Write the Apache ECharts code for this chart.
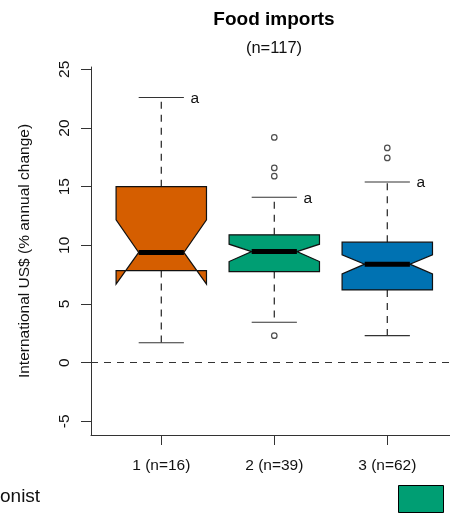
<!DOCTYPE html>
<html><head><meta charset="utf-8">
<script src="https://cdn.jsdelivr.net/npm/echarts@6/dist/echarts.min.js"></script>
<style>html,body{margin:0;padding:0;background:#fff}#c{width:450px;height:515px}</style>
</head><body><div id="c"></div>
<script>
// ---- data ----
const categories = ['1 (n=16)', '2 (n=39)', '3 (n=62)'];
const positions = [1, 2, 3];
const whiskerLow = [1.7, 3.45, 2.3];
const q1 = [7.85, 7.77, 6.2];
const notchLow = [6.69, 8.62, 7.57];
const median = [9.4, 9.47, 8.4];
const notchHigh = [12.18, 10.1, 9.19];
const q3 = [15.0, 10.9, 10.27];
const whiskerHigh = [22.6, 14.1, 15.4];
const outlierX = [2, 2, 2, 2, 3, 3];
const outlierY = [19.2, 16.6, 15.9, 2.3, 18.3, 17.45];
const groupLetters = ['a', 'a', 'a'];
const yTicks = [-5, 0, 5, 10, 15, 20, 25];
const boxColors = ['#D55E00', '#009E73', '#0072B2'];
const titleText = 'Food imports';
const subtitleText = '(n=117)';
const yName = 'International US$ (% annual change)';
const legendText = 'onist';
const legendColor = '#009E73';

const FONT = '"Liberation Sans", Arial, sans-serif';
const AX = '#333';

const boxData = positions.map((p, i) => [p, whiskerLow[i], q1[i], notchLow[i], median[i], notchHigh[i], q3[i], whiskerHigh[i]]);
const outData = outlierX.map((x, i) => [x, outlierY[i]]);

const chart = echarts.init(document.getElementById('c'), null, {renderer: 'canvas'});
chart.setOption({
  animation: false,
  backgroundColor: '#fff',
  grid: {left: 91, right: 0, top: 67, bottom: 80, containLabel: false},
  xAxis: {
    type: 'value', min: 0.378, max: 3.555,
    splitLine: {show: false},
    axisLine: {show: true, onZero: false, lineStyle: {color: AX, width: 1}},
    axisTick: {show: true, length: 10, customValues: positions, lineStyle: {color: AX}},
    axisLabel: {show: true, customValues: positions, margin: 23, fontSize: 15.5, color: '#111', fontFamily: FONT,
      formatter: v => categories[positions.indexOf(Math.round(v))] || ''}
  },
  yAxis: {
    type: 'value', min: -6.16, max: 25.2,
    splitLine: {show: false},
    axisLine: {show: true, onZero: false, lineStyle: {color: AX, width: 1}},
    axisTick: {show: true, length: 10, customValues: yTicks, lineStyle: {color: AX}},
    axisLabel: {show: true, customValues: yTicks, rotate: 90, margin: 18, fontSize: 15.5, color: '#111', fontFamily: FONT},
    name: yName, nameLocation: 'middle', nameRotate: 90, nameGap: 58,
    nameTextStyle: {fontSize: 15.5, color: '#111', fontFamily: FONT}
  },
  graphic: [
    {type: 'text', x: 274, y: 20, style: {text: titleText, font: 'bold 19px ' + FONT, fill: '#000', textAlign: 'center', textVerticalAlign: 'middle'}},
    {type: 'text', x: 274, y: 48, style: {text: subtitleText, font: '16.5px ' + FONT, fill: '#111', textAlign: 'center', textVerticalAlign: 'middle'}},
    {type: 'text', x: 0, y: 497, style: {text: legendText, font: '19px ' + FONT, fill: '#111', textAlign: 'left', textVerticalAlign: 'middle'}},
    {type: 'rect', shape: {x: 398.5, y: 485.5, width: 45, height: 27}, style: {fill: legendColor, stroke: '#000', lineWidth: 1}}
  ],
  series: [
    {
      type: 'custom',
      data: boxData,
      encode: {x: 0, y: [1, 7]},
      clip: false,
      renderItem: function (params, api) {
        const i = params.dataIndex;
        const x = api.value(0);
        const wl = api.value(1), a = api.value(2), nl = api.value(3), m = api.value(4), nh = api.value(5), b = api.value(6), wh = api.value(7);
        const hw = api.size([0.4, 0])[0];
        const c = api.coord([x, 0])[0];
        const Y = v => api.coord([x, v])[1];
        const dash = [7, 6];
        const pts = [
          [c - hw, Y(a)], [c - hw, Y(nl)], [c - hw / 2, Y(m)], [c - hw, Y(nh)], [c - hw, Y(b)],
          [c + hw, Y(b)], [c + hw, Y(nh)], [c + hw / 2, Y(m)], [c + hw, Y(nl)], [c + hw, Y(a)]
        ];
        return {
          type: 'group',
          children: [
            {type: 'line', shape: {x1: c, y1: Y(b), x2: c, y2: Y(wh)}, style: {stroke: '#222', lineWidth: 1.2, lineDash: dash}},
            {type: 'line', shape: {x1: c, y1: Y(a), x2: c, y2: Y(wl)}, style: {stroke: '#222', lineWidth: 1.2, lineDash: dash}},
            {type: 'line', shape: {x1: c - hw / 2, y1: Y(wh), x2: c + hw / 2, y2: Y(wh)}, style: {stroke: '#333', lineWidth: 1.2}},
            {type: 'line', shape: {x1: c - hw / 2, y1: Y(wl), x2: c + hw / 2, y2: Y(wl)}, style: {stroke: '#333', lineWidth: 1.2}},
            {type: 'polygon', shape: {points: pts}, style: {fill: boxColors[i], stroke: '#111', lineWidth: 1.2}},
            {type: 'line', shape: {x1: c - hw / 2, y1: Y(m), x2: c + hw / 2, y2: Y(m)}, style: {stroke: '#000', lineWidth: 5}},
            {type: 'text', x: c + hw / 2 + 6.5, y: Y(wh) + 1, style: {text: groupLetters[i], font: '15.5px ' + FONT, fill: '#111', textAlign: 'left', textVerticalAlign: 'middle'}}
          ]
        };
      },
      markLine: {
        silent: true, symbol: ['none', 'none'], label: {show: false},
        lineStyle: {type: [7, 6], color: '#333', width: 1.2},
        data: [{yAxis: 0}]
      }
    },
    {
      type: 'scatter',
      data: outData,
      symbol: 'circle', symbolSize: 5.5,
      itemStyle: {color: '#fff', borderColor: '#222', borderWidth: 1.2}
    }
  ]
});
</script>
</body></html>
